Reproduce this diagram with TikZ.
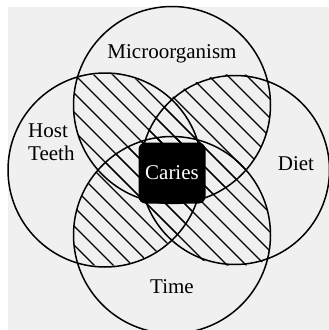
\documentclass[tikz,border=0pt]{standalone}
\usepackage{fontspec}
\setmainfont{Liberation Serif}
\definecolor{panelGray}{RGB}{240,240,240}

\begin{document}
\begin{tikzpicture}[
    x=1pt,y=-1pt,
    line cap=round,
    line join=round,
    every node/.style={font=\fontsize{21}{23}\selectfont},
    ring/.style={line width=1.5pt,draw=black},
    hatch/.style={line width=1.1pt,draw=black},
    core/.style={
        fill=black,
        text=white,
        rounded corners=7pt,
        minimum width=67pt,
        minimum height=61pt,
        inner sep=0pt
    },
    lab/.style={inner sep=0pt}
]

% ============================================================
% frame
% ============================================================

\useasboundingbox (0,0) rectangle (329,330);
\fill[panelGray] (8,7) rectangle (329,330);

\coordinate (cTop)    at (172,105);
\coordinate (cLeft)   at (105,170);
\coordinate (cRight)  at (235,170);
\coordinate (cBottom) at (172,235);

% ============================================================
% hatched overlaps of neighbouring circles
% ============================================================

\newcommand{\HatchLens}[2]{%
    \begin{scope}
        \clip (#1) circle[radius=98.5];
        \clip (#2) circle[radius=96];
        \foreach \c in {-342,-323,...,342}
            \draw[hatch] (\c-10,-10) -- (\c+340,340);
    \end{scope}
}

\HatchLens{cTop}{cLeft}
\HatchLens{cTop}{cRight}
\HatchLens{cBottom}{cLeft}
\HatchLens{cBottom}{cRight}

% ============================================================
% circles
% ============================================================

\draw[ring] (cTop)    circle[radius=98.5];
\draw[ring] (cBottom) circle[radius=98.5];
\draw[ring] (cLeft)   circle[radius=97];
\draw[ring] (cRight)  circle[radius=94.5];

% ============================================================
% labels
% ============================================================

\node[core] (caries) at (172,173) {Caries};

\node[lab,anchor=base] (micro) at (172,58)  {Microorganism};
\node[lab,anchor=base west,align=left] (host) at (28,160) {Host\\Teeth};
\node[lab,anchor=base] (diet)  at (296,170) {Diet};
\node[lab,anchor=base] (time)  at (172,293) {Time};

\end{tikzpicture}
\end{document}
